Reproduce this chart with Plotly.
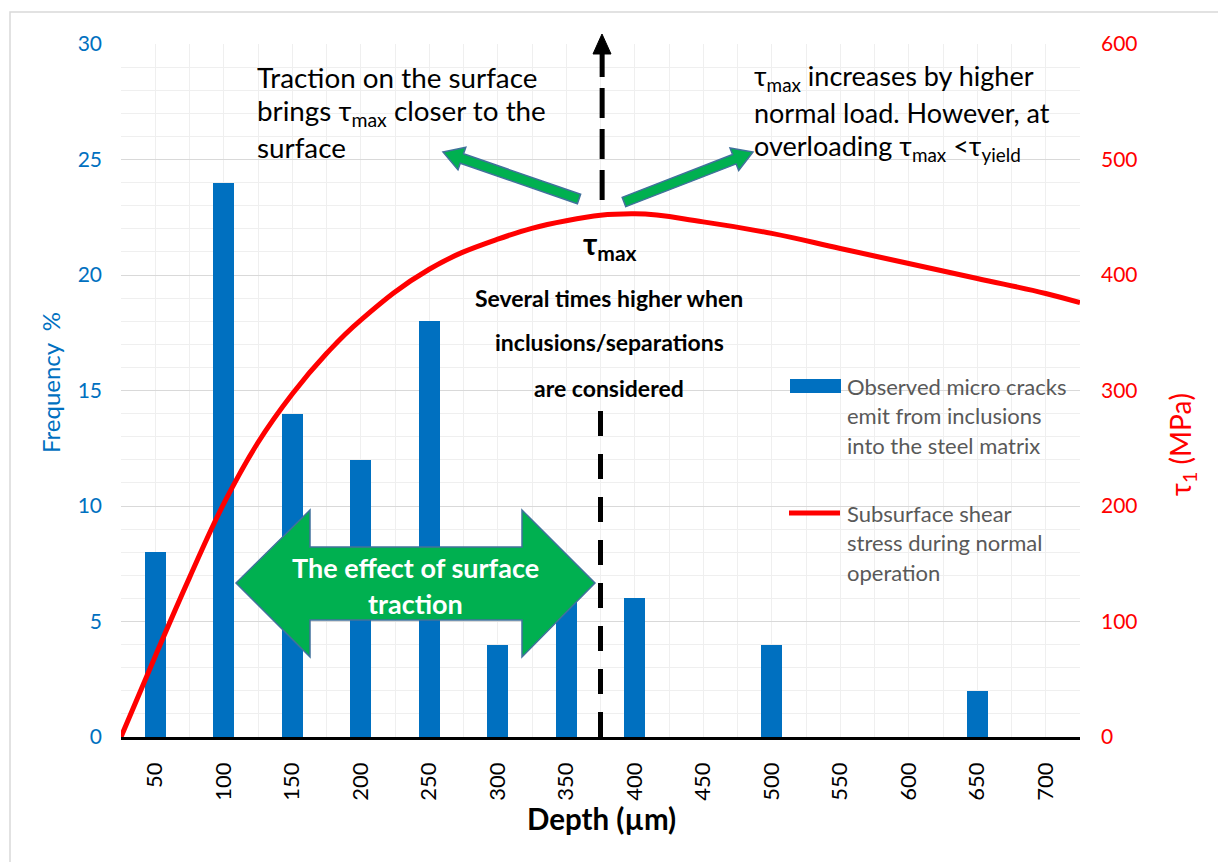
import math
import plotly.graph_objects as go

# ---------------- data ----------------
depth = [50, 100, 150, 200, 250, 300, 350, 400, 450, 500, 550, 600, 650, 700]
frequency = [8, 24, 14, 12, 18, 4, 6, 6, 0, 4, 0, 0, 2, 0]

curve_depth = [25, 50, 75, 100, 125, 150, 175, 200, 250, 300, 350, 400, 450, 500, 550, 600, 650, 700, 725]
shear_stress = [0, 70, 138, 202, 255, 297, 332, 361, 405, 431, 447, 453, 446, 436, 423, 410, 397, 384, 376]

tau_max_depth = 375

BLUE = "#0070C0"
RED = "#FF0000"
GREEN = "#00B050"
OUTLINE = "#41719C"
FONT = "Lato"

# plot-area geometry (pixels) used only to place decorations
L, R, T, B = 121, 1080, 44, 737


def P(x, y):
    return (x - L) / (R - L), (B - y) / (B - T)


def path(points):
    pts = [P(x, y) for x, y in points]
    return "M " + " L ".join(f"{a:.5f},{b:.5f}" for a, b in pts) + " Z"


def arrow(tail, tip, w=5, hw=12, hl=20):
    dx, dy = tip[0] - tail[0], tip[1] - tail[1]
    ln = math.hypot(dx, dy)
    ux, uy = dx / ln, dy / ln
    nx, ny = -uy, ux
    bx, by = tip[0] - ux * hl, tip[1] - uy * hl
    pts = [
        (tail[0] + nx * w, tail[1] + ny * w),
        (bx + nx * w, by + ny * w),
        (bx + nx * hw, by + ny * hw),
        tip,
        (bx - nx * hw, by - ny * hw),
        (bx - nx * w, by - ny * w),
        (tail[0] - nx * w, tail[1] - ny * w),
    ]
    return path(pts)


fig = go.Figure()
fig.add_trace(go.Bar(x=depth, y=frequency, width=15.6, marker=dict(color=BLUE, line=dict(width=0)),
                     name="Observed micro cracks emit from inclusions into the steel matrix",
                     showlegend=False, yaxis="y"))
fig.add_trace(go.Scatter(x=curve_depth, y=shear_stress, mode="lines",
                         line=dict(color=RED, width=5, shape="spline", smoothing=1.2),
                         name="Subsurface shear stress during normal operation",
                         showlegend=False, yaxis="y2"))

shapes = []
# outer frame
shapes.append(dict(type="rect", xref="paper", yref="paper",
                   x0=P(10, 12)[0], y0=P(10, 870)[1], x1=P(1240, 12)[0], y1=P(10, 12)[1],
                   line=dict(color="#D9D9D9", width=1.5), fillcolor="rgba(0,0,0,0)", layer="below"))
# dashed tau_max line (lower part)
shapes.append(dict(type="line", xref="x", yref="paper", x0=tau_max_depth, x1=tau_max_depth,
                   y0=0, y1=P(0, 408)[1], line=dict(color="black", width=5, dash="25px,18px")))
# dashed tau_max line (upper part with arrow head)
shapes.append(dict(type="line", xref="x", yref="paper", x0=tau_max_depth + 1.2, x1=tau_max_depth + 1.2,
                   y0=P(0, 200)[1], y1=P(0, 52)[1], line=dict(color="black", width=5, dash="30px,11px")))
shapes.append(dict(type="path", xref="paper", yref="paper",
                   path=path([(593, 54), (602, 34), (611, 54)]),
                   fillcolor="black", line=dict(color="black", width=1)))
# small green arrows
shapes.append(dict(type="path", xref="paper", yref="paper", path=arrow((579, 199), (443, 152)),
                   fillcolor=GREEN, line=dict(color=OUTLINE, width=1.5)))
shapes.append(dict(type="path", xref="paper", yref="paper", path=arrow((624, 202), (753, 152)),
                   fillcolor=GREEN, line=dict(color=OUTLINE, width=1.5)))
# big double arrow
shapes.append(dict(type="path", xref="paper", yref="paper",
                   path=path([(236, 583), (310, 510), (310, 547), (522, 547), (522, 510), (595, 583),
                              (522, 657), (522, 620), (310, 620), (310, 657)]),
                   fillcolor=GREEN, line=dict(color=OUTLINE, width=1.5)))
# legend symbols
shapes.append(dict(type="rect", xref="paper", yref="paper",
                   x0=P(790, 0)[0], x1=P(841, 0)[0], y0=P(0, 393)[1], y1=P(0, 379)[1],
                   fillcolor=BLUE, line=dict(width=0)))
shapes.append(dict(type="line", xref="paper", yref="paper",
                   x0=P(789, 0)[0], x1=P(840, 0)[0], y0=P(0, 513)[1], y1=P(0, 513)[1],
                   line=dict(color=RED, width=5)))

ann = []


def text(x, y, s, size, color="black", anchor="left", bold=False, angle=0):
    if bold:
        s = f"<b>{s}</b>"
    xp, yp = P(x, y)
    ann.append(dict(xref="paper", yref="paper", x=xp, y=yp, text=s, showarrow=False,
                    xanchor=anchor, yanchor="middle", textangle=angle,
                    font=dict(family=FONT, size=size, color=color)))


# top-left note
text(255, 78, "Traction on the surface", 27.8)
text(255, 113, "brings τ<sub>max</sub> closer to the", 27.8)
text(255, 148, "surface", 27.8)
# top-right note
text(752, 78, "τ<sub>max</sub> increases by higher", 27)
text(752, 113, "normal load. However, at", 27)
text(752, 148, "overloading τ<sub>max</sub> &lt;τ<sub>yield</sub>", 27)
# tau max label
text(610, 245, "τ<sub>max</sub>", 30, bold=True, anchor="center")
# bold note
text(609, 298, "Several times higher when", 23, bold=True, anchor="center")
text(609, 342, "inclusions/separations", 23, bold=True, anchor="center")
text(609, 388, "are considered", 23, bold=True, anchor="center")
# arrow text
text(415, 567, "The effect of surface", 27, color="white", bold=True, anchor="center")
text(415, 603, "traction", 27, color="white", bold=True, anchor="center")
# legend text
for i, s in enumerate(["Observed micro cracks", "emit from inclusions", "into the steel matrix"]):
    text(845, 386 + 29.5 * i, s, 22, color="#595959")
for i, s in enumerate(["Subsurface shear", "stress during normal", "operation"]):
    text(845, 513 + 29.5 * i, s, 22, color="#595959")
# axis titles
text(50, 383, "Frequency  %", 24, color=BLUE, anchor="center", angle=-90)
text(1182, 445, "τ<sub>1</sub> (MPa)", 28, color=RED, anchor="center", angle=-90)
text(601, 818, "Depth (µm)", 29.5, bold=True, anchor="center")

fig.update_layout(
    width=1218, height=862,
    margin=dict(l=L, r=1218 - R, t=T, b=862 - B),
    paper_bgcolor="white", plot_bgcolor="white",
    font=dict(family=FONT),
    bargap=0,
    shapes=shapes, annotations=ann,
    xaxis=dict(range=[25, 725], tickmode="linear", tick0=50, dtick=50, tickangle=-90,
               tickfont=dict(family=FONT, size=22, color="black"),
               showgrid=True, gridcolor="#EFEFEF", gridwidth=1.3,
               minor=dict(tickmode="linear", tick0=25, dtick=25, showgrid=True, gridcolor="#EFEFEF", gridwidth=1.3),
               showline=True, linecolor="black", linewidth=2.5, zeroline=False,
               ticks="", ticklabelstandoff=14, fixedrange=True),
    yaxis=dict(range=[0, 30], tickmode="linear", tick0=0, dtick=5,
               tickfont=dict(family=FONT, size=21, color=BLUE),
               showgrid=True, gridcolor="#D9D9D9", gridwidth=1.3,
               minor=dict(tickmode="linear", tick0=0, dtick=1, showgrid=True, gridcolor="#EFEFEF", gridwidth=1.3),
               zeroline=False, showline=False, ticks="", ticklabelstandoff=18),
    yaxis2=dict(range=[0, 600], tickmode="linear", tick0=0, dtick=100, overlaying="y", side="right",
                tickfont=dict(family=FONT, size=21, color=RED),
                showgrid=False, zeroline=False, showline=False, ticks="", ticklabelstandoff=20),
)

fig.write_html("out.html")
